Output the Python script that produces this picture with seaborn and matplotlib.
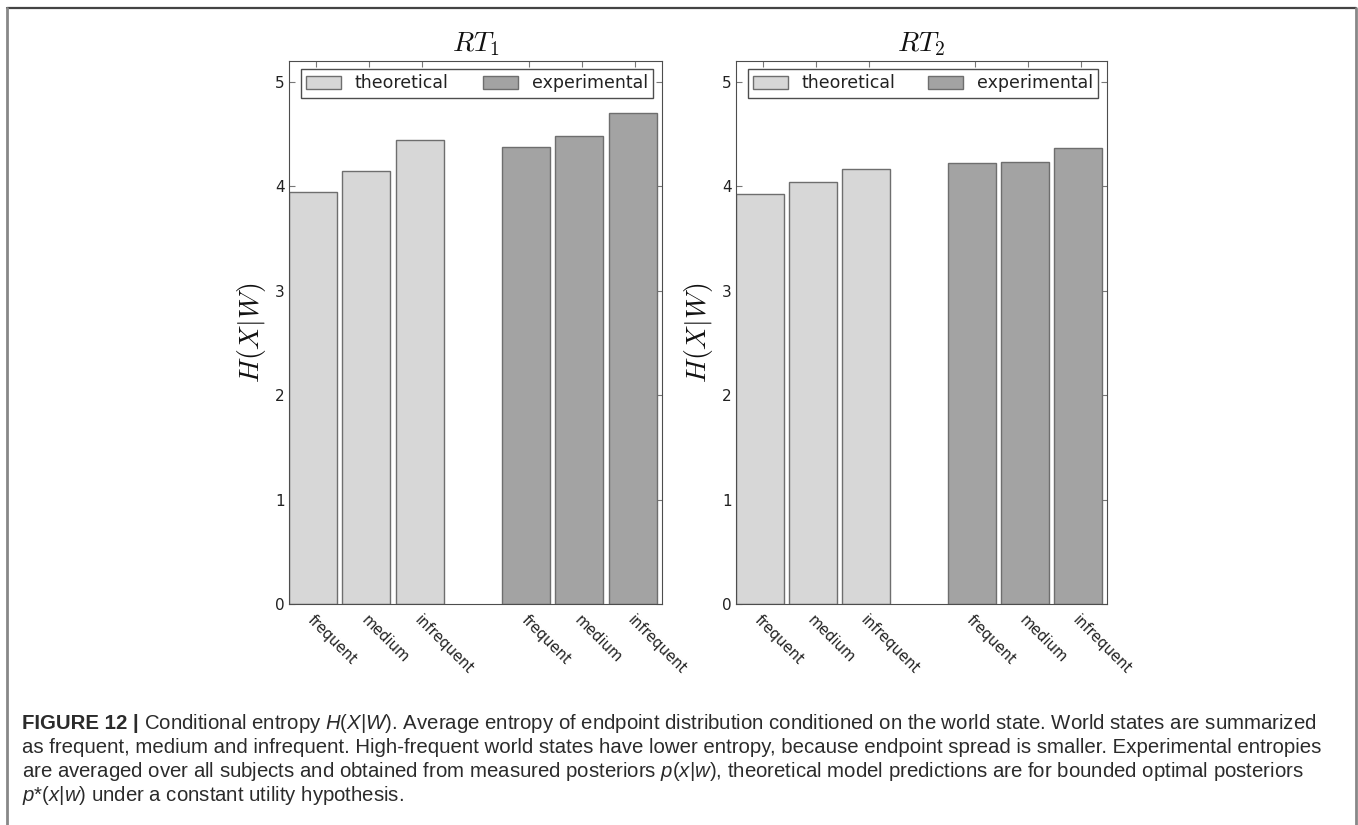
import numpy as np
import pandas as pd
import matplotlib
matplotlib.use("Agg")
import matplotlib.pyplot as plt
from matplotlib.lines import Line2D
import seaborn as sns

# World-state categories and conditional entropies H(X|W)
states = ["frequent", "medium", "infrequent"]
kinds = ["theoretical", "experimental"]
rt1_theoretical = [3.95, 4.15, 4.44]
rt1_experimental = [4.38, 4.48, 4.70]
rt2_theoretical = [3.93, 4.04, 4.17]
rt2_experimental = [4.22, 4.23, 4.37]
panel_titles = [r"$RT_1$", r"$RT_2$"]
y_ticks = [0, 1, 2, 3, 4, 5]

caption_lines = [
    "Conditional entropy $H$($X$|$W$). Average entropy of endpoint distribution conditioned on the world state. World states are summarized",
    "as frequent, medium and infrequent. High-frequent world states have lower entropy, because endpoint spread is smaller. Experimental entropies",
    "are averaged over all subjects and obtained from measured posteriors $p$($x$|$w$), theoretical model predictions are for bounded optimal posteriors",
    "$p$*($x$|$w$) under a constant utility hypothesis.",
]

sns.set_style("ticks", rc={
    "axes.edgecolor": "#4d4d4d",
    "axes.linewidth": 1.0,
    "xtick.direction": "in",
    "ytick.direction": "in",
})
plt.rcParams["font.family"] = ["DejaVu Sans"]
plt.rcParams["mathtext.fontset"] = "custom"
plt.rcParams["mathtext.rm"] = "Liberation Sans"
plt.rcParams["mathtext.it"] = "Liberation Sans:italic"
plt.rcParams["mathtext.bf"] = "Liberation Sans:bold"

fig = plt.figure(figsize=(13.58, 8.25), dpi=100)

slots = np.array([0, 1, 2, 4, 5, 6])
bar_w = 0.9
palette = {"theoretical": "#d7d7d7", "experimental": "#a3a3a3"}

panels = [(rt1_theoretical, rt1_experimental), (rt2_theoretical, rt2_experimental)]
lefts = [289 / 1358, 736 / 1358]
widths = [373 / 1358, 371 / 1358]
bottom = 1 - 604 / 825
height = (604 - 61) / 825

for i, (theo, expe) in enumerate(panels):
    ax = fig.add_axes([lefts[i], bottom, widths[i], height])
    df = pd.DataFrame({
        "pos": slots + bar_w / 2,
        "value": list(theo) + list(expe),
        "kind": [kinds[0]] * 3 + [kinds[1]] * 3,
    })
    sns.barplot(data=df, x="pos", y="value", hue="kind", hue_order=kinds,
                palette=palette, native_scale=True, dodge=False, width=bar_w,
                edgecolor="#6e6e6e", linewidth=1.0, ax=ax)
    ax.set_xlim(0, 7)
    ax.set_ylim(0, 5.2)
    ax.set_yticks(y_ticks)
    ax.set_yticklabels([str(t) for t in y_ticks], fontsize=11, color="#222222")
    ax.set_xticks(slots + 0.5)
    ax.set_xticklabels(states * 2, fontsize=10.5, color="#222222",
                       rotation=-45, rotation_mode="anchor", ha="left", va="top")
    ax.tick_params(axis="both", which="major", top=True, right=True,
                   direction="in", length=4, width=0.8, color="#777777")
    ax.tick_params(axis="x", pad=6)
    ax.tick_params(axis="y", pad=3)
    ax.set_xlabel("")
    ax.set_ylabel(r"$H(X|W)$", fontsize=20, math_fontfamily="cm",
                  labelpad=5, color="#111111")
    ax.set_title(panel_titles[i], fontsize=20, math_fontfamily="cm",
                 pad=7, color="#111111")
    sns.move_legend(ax, "upper left", bbox_to_anchor=(0.032, 0.93, 0.944, 0.055),
                    mode="expand", ncol=2, title=None, fontsize=12.5,
                    borderaxespad=0, frameon=True, fancybox=False,
                    handlelength=2.0, handleheight=0.8, handletextpad=0.8,
                    borderpad=0.3)
    leg = ax.get_legend()
    leg.get_frame().set_edgecolor("#4d4d4d")
    leg.get_frame().set_linewidth(1.0)
    leg.get_frame().set_alpha(1)
    for t in leg.get_texts():
        t.set_color("#222222")

# Caption
cap_color = "#2b2b2b"
cap_size = 14.7
baselines = [729, 753, 777, 801]
x0 = 22 / 1358
bold = fig.text(x0, 1 - baselines[0] / 825, "FIGURE 12 |", fontsize=cap_size,
                family="Liberation Sans", weight="bold", color=cap_color, va="baseline")
fig.canvas.draw()
bb = bold.get_window_extent()
x_after = (bb.x1 + 5) / fig.bbox.width
for k, line in enumerate(caption_lines):
    fig.text(x_after if k == 0 else x0, 1 - baselines[k] / 825, line,
             fontsize=cap_size, family="Liberation Sans", color=cap_color,
             va="baseline")

# Page frame around the figure
fig.add_artist(Line2D([7 / 1358, 1356 / 1358], [1 - 8 / 825, 1 - 8 / 825],
                      transform=fig.transFigure, color="#444444", lw=1.6))
fig.add_artist(Line2D([7 / 1358, 7 / 1358], [1 - 8 / 825, 0],
                      transform=fig.transFigure, color="#888888", lw=2.0))
fig.add_artist(Line2D([1356 / 1358, 1356 / 1358], [1 - 8 / 825, 0],
                      transform=fig.transFigure, color="#888888", lw=2.0))

fig.savefig("out.png", dpi=100)
